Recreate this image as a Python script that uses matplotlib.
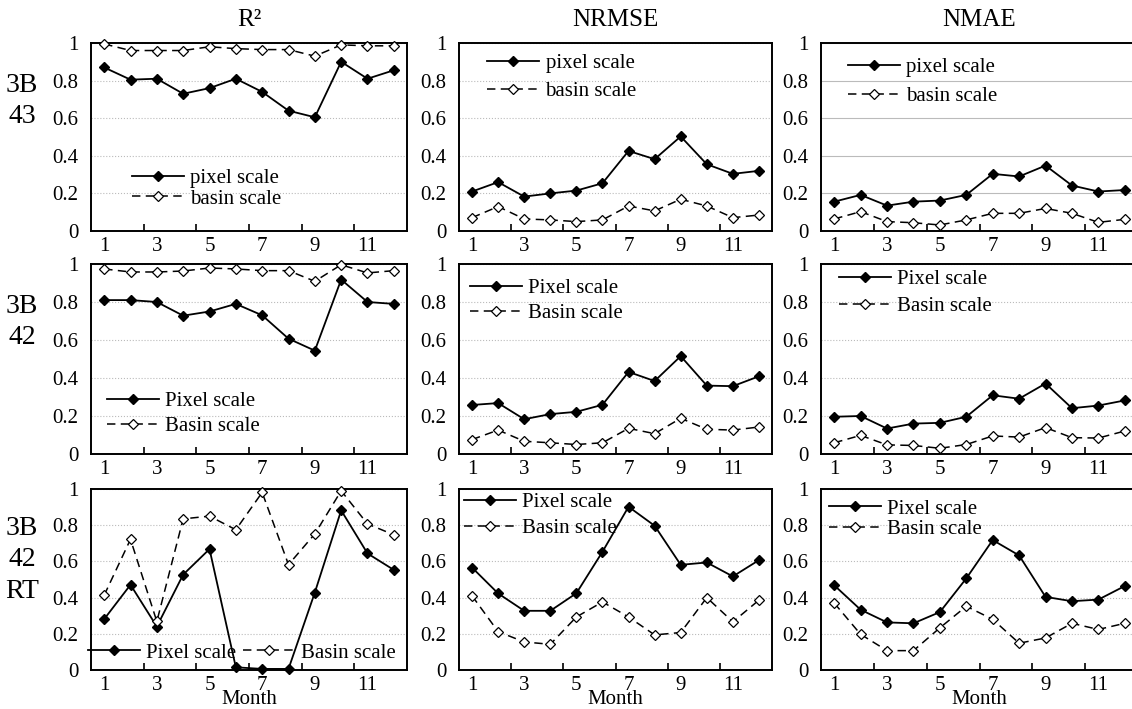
import matplotlib.pyplot as plt

plt.rcParams['font.family'] = ['Liberation Serif', 'DejaVu Serif']

months = list(range(1, 13))
month_labels = ['1', '3', '5', '7', '9', '11']
metrics = ['R²', 'NRMSE', 'NMAE']
products = ['3B\n43', '3B\n42', '3B\n42\nRT']

# 3B43
r2_pixel_3b43 = [0.87, 0.805, 0.81, 0.73, 0.76, 0.81, 0.74, 0.64, 0.605, 0.90, 0.81, 0.855]
r2_basin_3b43 = [0.995, 0.96, 0.96, 0.96, 0.98, 0.97, 0.965, 0.965, 0.93, 0.99, 0.985, 0.985]
nrmse_pixel_3b43 = [0.21, 0.26, 0.183, 0.20, 0.215, 0.254, 0.426, 0.382, 0.503, 0.355, 0.304, 0.32]
nrmse_basin_3b43 = [0.071, 0.13, 0.064, 0.059, 0.05, 0.059, 0.133, 0.107, 0.169, 0.133, 0.071, 0.085]
nmae_pixel_3b43 = [0.156, 0.192, 0.135, 0.156, 0.162, 0.192, 0.304, 0.29, 0.348, 0.242, 0.21, 0.218]
nmae_basin_3b43 = [0.064, 0.103, 0.05, 0.044, 0.032, 0.059, 0.094, 0.094, 0.12, 0.094, 0.046, 0.062]

# 3B42
r2_pixel_3b42 = [0.81, 0.81, 0.80, 0.728, 0.75, 0.79, 0.73, 0.607, 0.544, 0.918, 0.80, 0.79]
r2_basin_3b42 = [0.974, 0.958, 0.958, 0.963, 0.979, 0.974, 0.965, 0.965, 0.909, 0.996, 0.953, 0.965]
nrmse_pixel_3b42 = [0.258, 0.268, 0.183, 0.21, 0.222, 0.259, 0.432, 0.384, 0.515, 0.36, 0.357, 0.409]
nrmse_basin_3b42 = [0.076, 0.126, 0.067, 0.059, 0.05, 0.059, 0.135, 0.107, 0.188, 0.13, 0.126, 0.142]
nmae_pixel_3b42 = [0.196, 0.20, 0.134, 0.16, 0.164, 0.196, 0.309, 0.291, 0.371, 0.241, 0.255, 0.282]
nmae_basin_3b42 = [0.059, 0.098, 0.048, 0.045, 0.03, 0.05, 0.095, 0.089, 0.139, 0.086, 0.084, 0.121]

# 3B42RT
r2_pixel_3b42rt = [0.281, 0.471, 0.24, 0.527, 0.668, 0.015, 0.006, 0.006, 0.428, 0.882, 0.644, 0.553]
r2_basin_3b42rt = [0.413, 0.722, 0.268, 0.835, 0.85, 0.775, 0.981, 0.582, 0.752, 0.99, 0.807, 0.747]
nrmse_pixel_3b42rt = [0.566, 0.423, 0.327, 0.327, 0.424, 0.653, 0.902, 0.797, 0.581, 0.594, 0.517, 0.607]
nrmse_basin_3b42rt = [0.41, 0.212, 0.155, 0.142, 0.293, 0.376, 0.293, 0.194, 0.207, 0.40, 0.266, 0.386]
nmae_pixel_3b42rt = [0.468, 0.333, 0.263, 0.258, 0.32, 0.506, 0.718, 0.633, 0.404, 0.38, 0.389, 0.464]
nmae_basin_3b42rt = [0.37, 0.197, 0.107, 0.107, 0.233, 0.352, 0.28, 0.148, 0.177, 0.258, 0.224, 0.258]

pixel = [[r2_pixel_3b43, nrmse_pixel_3b43, nmae_pixel_3b43],
         [r2_pixel_3b42, nrmse_pixel_3b42, nmae_pixel_3b42],
         [r2_pixel_3b42rt, nrmse_pixel_3b42rt, nmae_pixel_3b42rt]]
basin = [[r2_basin_3b43, nrmse_basin_3b43, nmae_basin_3b43],
         [r2_basin_3b42, nrmse_basin_3b42, nmae_basin_3b42],
         [r2_basin_3b42rt, nrmse_basin_3b42rt, nmae_basin_3b42rt]]
legend_names = [['pixel scale', 'basin scale'],
                ['Pixel scale', 'Basin scale'],
                ['Pixel scale', 'Basin scale']]

W, H = 1132, 709
fig = plt.figure(figsize=(W / 100, H / 100), dpi=100)

col_px = [(91, 316), (459, 313), (821, 317)]
row_px = [(43, 231), (264, 454), (489, 670)]
row_label_y = [101, 322, 560]

# legend placement per panel: x, y (axes fraction), labelspacing, ncol
leg_pos = [[(0.13, 0.226, 0.05, 1), (0.09, 0.816, 0.4, 1), (0.085, 0.793, 0.45, 1)],
           [(0.05, 0.21, 0.25, 1), (0.035, 0.805, 0.25, 1), (0.057, 0.847, 0.35, 1)],
           [(-0.01, 0.094, 0.3, 2), (0.015, 0.853, 0.3, 1), (0.025, 0.834, 0.05, 1)]]

for i in range(3):
    top, bot = row_px[i]
    for j in range(3):
        left, width = col_px[j]
        ax = fig.add_axes([left / W, 1 - bot / H, width / W, (bot - top) / H])
        ax.plot(months, pixel[i][j], color='black', lw=1.3, marker='D', ms=5,
                label=legend_names[i][0], clip_on=False, zorder=3)
        ax.plot(months, basin[i][j], color='black', lw=1.1, ls=(0, (5.5, 3.5)), marker='D', ms=4.8,
                mfc='white', mew=0.9, label=legend_names[i][1], clip_on=False, zorder=3)
        ax.set_xlim(0.5, 12.5)
        ax.set_ylim(0, 1)
        ax.set_yticks([0, 0.2, 0.4, 0.6, 0.8, 1])
        ax.set_yticklabels(['0', '0.2', '0.4', '0.6', '0.8', '1'])
        ax.set_xticks([2.5, 4.5, 6.5, 8.5, 10.5])
        ax.set_xticklabels([])
        ax.set_xticks([1, 3, 5, 7, 9, 11], minor=True)
        ax.set_xticklabels(month_labels, minor=True)
        ax.tick_params(axis='x', which='major', direction='in', length=5, width=1.2)
        ax.tick_params(axis='x', which='minor', length=0, pad=4, labelsize=15)
        ax.tick_params(axis='y', length=0, pad=9, labelsize=15)
        gls = '-' if (i == 0 and j == 2) else ':'
        ax.grid(axis='y', color='#bbbbbb', ls=gls, lw=0.8)
        ax.set_axisbelow(True)
        for s in ax.spines.values():
            s.set_linewidth(1.4)
        lx, ly, ls, nc = leg_pos[i][j]
        ax.legend(loc='center left', bbox_to_anchor=(lx, ly), frameon=False, fontsize=15,
                  handlelength=2.5, handletextpad=0.3, labelspacing=ls, ncol=nc,
                  columnspacing=0.3, borderpad=0, borderaxespad=0)
        if i == 0:
            ax.set_title(metrics[j], fontsize=18, pad=12)
        if i == 2:
            ax.set_xlabel('Month', fontsize=15, labelpad=-3)
        if j == 0:
            fig.text(22 / W, 1 - row_label_y[i] / H, products[i], fontsize=20,
                     ha='center', va='center', linespacing=1.35)

fig.savefig('out.png', dpi=100)
